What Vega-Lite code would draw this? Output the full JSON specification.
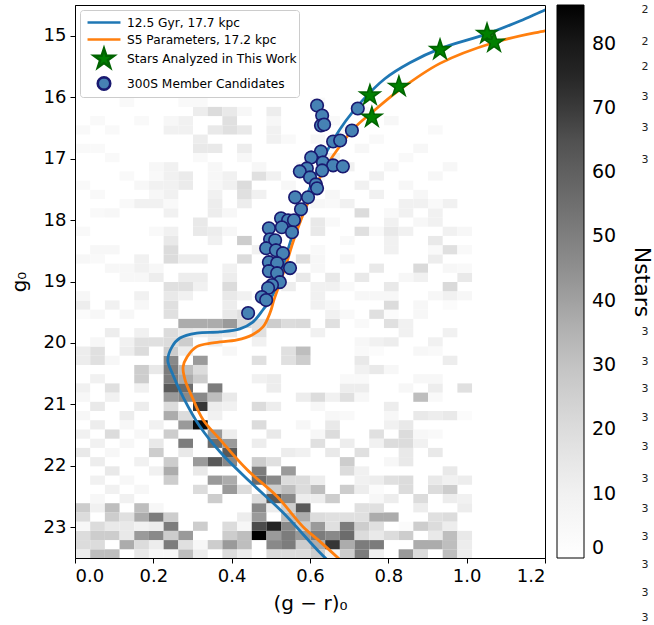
{
"$schema": "https://vega.github.io/schema/vega-lite/v6.json",
"width": 470, "height": 553,
"autosize": {"type": "none"},
"padding": {"left": 75, "top": 5, "right": 109, "bottom": 67},
"background": "white",
"config": {
 "font": "DejaVu Sans",
 "view": {"stroke": "black", "strokeWidth": 1},
 "axis": {"domainColor": "black", "tickColor": "black", "tickSize": 5, "labelColor": "black", "titleColor": "black", "labelFontSize": 18, "titleFontSize": 20, "titleFontWeight": "normal", "grid": false, "labelFont": "DejaVu Sans", "titleFont": "DejaVu Sans", "labelPadding": 4}
},
"datasets": {
 "hist": [
  {"c":0,"g":23.35,"n":12},{"c":0.0375,"g":23.35,"n":32},{"c":0.075,"g":23.35,"n":32},{"c":0.15,"g":23.35,"n":14},{"c":0.1875,"g":23.35,"n":6},{"c":0.225,"g":23.35,"n":6},{"c":0.2625,"g":23.35,"n":32},{"c":0.3,"g":23.35,"n":12},{"c":0.375,"g":23.35,"n":20},{"c":0.4125,"g":23.35,"n":12},{"c":0.4875,"g":23.35,"n":20},{"c":0.525,"g":23.35,"n":20},{"c":0.5625,"g":23.35,"n":20},{"c":0.6,"g":23.35,"n":26},{"c":0.6375,"g":23.35,"n":10},{"c":0.675,"g":23.35,"n":26},{"c":0.7125,"g":23.35,"n":51},{"c":0.75,"g":23.35,"n":10},{"c":0.825,"g":23.35,"n":42},{"c":0.8625,"g":23.35,"n":20},{"c":0.9375,"g":23.35,"n":32},{"c":0.975,"g":23.35,"n":12},
  {"c":0,"g":23.2,"n":20},{"c":0.0375,"g":23.2,"n":20},{"c":0.1125,"g":23.2,"n":37},{"c":0.15,"g":23.2,"n":20},{"c":0.1875,"g":23.2,"n":12},{"c":0.225,"g":23.2,"n":51},{"c":0.2625,"g":23.2,"n":18},{"c":0.3,"g":23.2,"n":6},{"c":0.3375,"g":23.2,"n":26},{"c":0.375,"g":23.2,"n":42},{"c":0.4125,"g":23.2,"n":32},{"c":0.4875,"g":23.2,"n":47},{"c":0.525,"g":23.2,"n":51},{"c":0.5625,"g":23.2,"n":26},{"c":0.6,"g":23.2,"n":37},{"c":0.6375,"g":23.2,"n":71},{"c":0.675,"g":23.2,"n":37},{"c":0.7125,"g":23.2,"n":51},{"c":0.75,"g":23.2,"n":51},{"c":0.8625,"g":23.2,"n":37},{"c":0.9,"g":23.2,"n":37},{"c":0.9375,"g":23.2,"n":32},{"c":0.975,"g":23.2,"n":12},
  {"c":0,"g":23.05,"n":20},{"c":0.0375,"g":23.05,"n":26},{"c":0.075,"g":23.05,"n":26},{"c":0.1125,"g":23.05,"n":14},{"c":0.15,"g":23.05,"n":42},{"c":0.1875,"g":23.05,"n":47},{"c":0.225,"g":23.05,"n":26},{"c":0.2625,"g":23.05,"n":42},{"c":0.375,"g":23.05,"n":26},{"c":0.4125,"g":23.05,"n":32},{"c":0.45,"g":23.05,"n":86},{"c":0.4875,"g":23.05,"n":42},{"c":0.525,"g":23.05,"n":51},{"c":0.5625,"g":23.05,"n":42},{"c":0.6,"g":23.05,"n":51},{"c":0.6375,"g":23.05,"n":47},{"c":0.675,"g":23.05,"n":56},{"c":0.7125,"g":23.05,"n":20},{"c":0.75,"g":23.05,"n":14},{"c":0.7875,"g":23.05,"n":20},{"c":0.825,"g":23.05,"n":26},{"c":0.9,"g":23.05,"n":14},{"c":0.9375,"g":23.05,"n":32},{"c":0.975,"g":23.05,"n":14},
  {"c":0,"g":22.9,"n":6},{"c":0.0375,"g":22.9,"n":20},{"c":0.075,"g":22.9,"n":14},{"c":0.1125,"g":22.9,"n":14},{"c":0.15,"g":22.9,"n":10},{"c":0.1875,"g":22.9,"n":12},{"c":0.225,"g":22.9,"n":51},{"c":0.3,"g":22.9,"n":26},{"c":0.375,"g":22.9,"n":20},{"c":0.4125,"g":22.9,"n":6},{"c":0.45,"g":22.9,"n":66},{"c":0.4875,"g":22.9,"n":76},{"c":0.525,"g":22.9,"n":47},{"c":0.5625,"g":22.9,"n":26},{"c":0.6,"g":22.9,"n":42},{"c":0.6375,"g":22.9,"n":18},{"c":0.675,"g":22.9,"n":51},{"c":0.7125,"g":22.9,"n":26},{"c":0.75,"g":22.9,"n":18},{"c":0.825,"g":22.9,"n":3},{"c":0.8625,"g":22.9,"n":26},{"c":0.9,"g":22.9,"n":20},{"c":0.9375,"g":22.9,"n":12},
  {"c":0,"g":22.75,"n":20},{"c":0.075,"g":22.75,"n":26},{"c":0.1125,"g":22.75,"n":18},{"c":0.15,"g":22.75,"n":37},{"c":0.1875,"g":22.75,"n":51},{"c":0.225,"g":22.75,"n":26},{"c":0.4125,"g":22.75,"n":12},{"c":0.45,"g":22.75,"n":42},{"c":0.525,"g":22.75,"n":32},{"c":0.5625,"g":22.75,"n":37},{"c":0.6,"g":22.75,"n":20},{"c":0.6375,"g":22.75,"n":18},{"c":0.675,"g":22.75,"n":18},{"c":0.7125,"g":22.75,"n":18},{"c":0.75,"g":22.75,"n":37},{"c":0.7875,"g":22.75,"n":37},{"c":0.9,"g":22.75,"n":18},{"c":0.9375,"g":22.75,"n":20},
  {"c":0,"g":22.6,"n":26},{"c":0.0375,"g":22.6,"n":10},{"c":0.075,"g":22.6,"n":32},{"c":0.15,"g":22.6,"n":32},{"c":0.1875,"g":22.6,"n":6},{"c":0.45,"g":22.6,"n":47},{"c":0.4875,"g":22.6,"n":12},{"c":0.525,"g":22.6,"n":26},{"c":0.5625,"g":22.6,"n":62},{"c":0.7125,"g":22.6,"n":18},{"c":0.75,"g":22.6,"n":18},{"c":0.8625,"g":22.6,"n":12},{"c":0.975,"g":22.6,"n":12},
  {"c":0.0375,"g":22.45,"n":6},{"c":0.1125,"g":22.45,"n":10},{"c":0.3375,"g":22.45,"n":26},{"c":0.45,"g":22.45,"n":20},{"c":0.4875,"g":22.45,"n":62},{"c":0.525,"g":22.45,"n":47},{"c":0.5625,"g":22.45,"n":12},{"c":0.6,"g":22.45,"n":12},{"c":0.6375,"g":22.45,"n":26},{"c":0.75,"g":22.45,"n":6},{"c":0.7875,"g":22.45,"n":12},{"c":0.8625,"g":22.45,"n":20},{"c":0.9375,"g":22.45,"n":12},{"c":0.975,"g":22.45,"n":10},
  {"c":0.075,"g":22.3,"n":10},{"c":0.15,"g":22.3,"n":6},{"c":0.3,"g":22.3,"n":20},{"c":0.375,"g":22.3,"n":42},{"c":0.4125,"g":22.3,"n":20},{"c":0.4875,"g":22.3,"n":26},{"c":0.525,"g":22.3,"n":32},{"c":0.5625,"g":22.3,"n":20},{"c":0.6,"g":22.3,"n":32},{"c":0.675,"g":22.3,"n":26},{"c":0.7125,"g":22.3,"n":12},{"c":0.75,"g":22.3,"n":3},{"c":0.825,"g":22.3,"n":20},{"c":0.9,"g":22.3,"n":20},{"c":0.9375,"g":22.3,"n":26},
  {"c":0.0375,"g":22.15,"n":10},{"c":0.1125,"g":22.15,"n":6},{"c":0.225,"g":22.15,"n":26},{"c":0.3375,"g":22.15,"n":42},{"c":0.375,"g":22.15,"n":37},{"c":0.45,"g":22.15,"n":56},{"c":0.4875,"g":22.15,"n":47},{"c":0.525,"g":22.15,"n":20},{"c":0.5625,"g":22.15,"n":20},{"c":0.6,"g":22.15,"n":12},{"c":0.7125,"g":22.15,"n":10},{"c":0.75,"g":22.15,"n":12},{"c":0.7875,"g":22.15,"n":18},{"c":0.825,"g":22.15,"n":20},{"c":0.9,"g":22.15,"n":14},{"c":0.9375,"g":22.15,"n":10},{"c":0.975,"g":22.15,"n":12},
  {"c":0.075,"g":22.0,"n":14},{"c":0.1875,"g":22.0,"n":10},{"c":0.225,"g":22.0,"n":37},{"c":0.3,"g":22.0,"n":14},{"c":0.45,"g":22.0,"n":51},{"c":0.525,"g":22.0,"n":42},{"c":0.675,"g":22.0,"n":20},{"c":0.7125,"g":22.0,"n":10},{"c":0.9375,"g":22.0,"n":14},
  {"c":0.0375,"g":21.85,"n":12},{"c":0.15,"g":21.85,"n":10},{"c":0.225,"g":21.85,"n":26},{"c":0.3,"g":21.85,"n":42},{"c":0.3375,"g":21.85,"n":62},{"c":0.375,"g":21.85,"n":47},{"c":0.45,"g":21.85,"n":26},{"c":0.4875,"g":21.85,"n":18},{"c":0.675,"g":21.85,"n":26},{"c":0.7875,"g":21.85,"n":6},{"c":0.825,"g":21.85,"n":14},
  {"c":0,"g":21.7,"n":14},{"c":0.075,"g":21.7,"n":6},{"c":0.1875,"g":21.7,"n":26},{"c":0.2625,"g":21.7,"n":14},{"c":0.375,"g":21.7,"n":62},{"c":0.525,"g":21.7,"n":12},{"c":0.5625,"g":21.7,"n":10},{"c":0.6375,"g":21.7,"n":14},{"c":0.7125,"g":21.7,"n":18},{"c":0.825,"g":21.7,"n":14},{"c":0.9,"g":21.7,"n":14},
  {"c":0.0375,"g":21.55,"n":10},{"c":0.1125,"g":21.55,"n":6},{"c":0.1875,"g":21.55,"n":14},{"c":0.2625,"g":21.55,"n":51},{"c":0.3375,"g":21.55,"n":56},{"c":0.375,"g":21.55,"n":42},{"c":0.45,"g":21.55,"n":12},{"c":0.6,"g":21.55,"n":18},{"c":0.675,"g":21.55,"n":12},{"c":0.75,"g":21.55,"n":10},{"c":0.7875,"g":21.55,"n":20},{"c":0.825,"g":21.55,"n":20},{"c":0.8625,"g":21.55,"n":10},
  {"c":0,"g":21.4,"n":10},{"c":0.075,"g":21.4,"n":20},{"c":0.15,"g":21.4,"n":6},{"c":0.225,"g":21.4,"n":26},{"c":0.3375,"g":21.4,"n":42},{"c":0.375,"g":21.4,"n":12},{"c":0.4875,"g":21.4,"n":14},{"c":0.6,"g":21.4,"n":6},{"c":0.6375,"g":21.4,"n":20},{"c":0.75,"g":21.4,"n":18},{"c":0.825,"g":21.4,"n":20},{"c":0.8625,"g":21.4,"n":6},{"c":0.9,"g":21.4,"n":4},
  {"c":0.0375,"g":21.25,"n":12},{"c":0.1125,"g":21.25,"n":6},{"c":0.1875,"g":21.25,"n":10},{"c":0.2625,"g":21.25,"n":42},{"c":0.3,"g":21.25,"n":84},{"c":0.45,"g":21.25,"n":20},{"c":0.5625,"g":21.25,"n":6},{"c":0.6375,"g":21.25,"n":14},{"c":0.7875,"g":21.25,"n":10},{"c":0.825,"g":21.25,"n":14},
  {"c":0,"g":21.1,"n":6},{"c":0.1125,"g":21.1,"n":12},{"c":0.225,"g":21.1,"n":37},{"c":0.2625,"g":21.1,"n":20},{"c":0.3375,"g":21.1,"n":10},{"c":0.6375,"g":21.1,"n":6},{"c":0.675,"g":21.1,"n":4},{"c":0.7875,"g":21.1,"n":6},{"c":0.8625,"g":21.1,"n":14},{"c":0.9,"g":21.1,"n":12},{"c":0.9375,"g":21.1,"n":14},{"c":0.975,"g":21.1,"n":3},
  {"c":0.0375,"g":20.95,"n":14},{"c":0.15,"g":20.95,"n":12},{"c":0.225,"g":20.95,"n":20},{"c":0.3,"g":20.95,"n":71},{"c":0.3375,"g":20.95,"n":12},{"c":0.375,"g":20.95,"n":10},{"c":0.45,"g":20.95,"n":20},{"c":0.4875,"g":20.95,"n":12},{"c":0.6,"g":20.95,"n":6},{"c":0.7875,"g":20.95,"n":12},
  {"c":0,"g":20.8,"n":6},{"c":0.075,"g":20.8,"n":10},{"c":0.225,"g":20.8,"n":42},{"c":0.2625,"g":20.8,"n":47},{"c":0.3,"g":20.8,"n":47},{"c":0.3375,"g":20.8,"n":32},{"c":0.375,"g":20.8,"n":14},{"c":0.5625,"g":20.8,"n":12},{"c":0.6,"g":20.8,"n":20},{"c":0.6375,"g":20.8,"n":10},{"c":0.675,"g":20.8,"n":18},{"c":0.7125,"g":20.8,"n":6},{"c":0.8625,"g":20.8,"n":32},{"c":0.9,"g":20.8,"n":4},
  {"c":0,"g":20.65,"n":10},{"c":0.075,"g":20.65,"n":18},{"c":0.15,"g":20.65,"n":10},{"c":0.225,"g":20.65,"n":62},{"c":0.2625,"g":20.65,"n":56},{"c":0.3375,"g":20.65,"n":51},{"c":0.4875,"g":20.65,"n":12},{"c":0.675,"g":20.65,"n":12},{"c":0.7125,"g":20.65,"n":12},{"c":0.825,"g":20.65,"n":6},{"c":0.9,"g":20.65,"n":12},{"c":0.975,"g":20.65,"n":18},
  {"c":0.0375,"g":20.5,"n":10},{"c":0.15,"g":20.5,"n":26},{"c":0.225,"g":20.5,"n":51},{"c":0.2625,"g":20.5,"n":37},{"c":0.3,"g":20.5,"n":26},{"c":0.45,"g":20.5,"n":10},{"c":0.4875,"g":20.5,"n":12},{"c":0.675,"g":20.5,"n":4},{"c":0.7125,"g":20.5,"n":4},{"c":0.8625,"g":20.5,"n":6},{"c":0.9,"g":20.5,"n":6},
  {"c":0.15,"g":20.35,"n":26},{"c":0.1875,"g":20.35,"n":14},{"c":0.225,"g":20.35,"n":51},{"c":0.2625,"g":20.35,"n":32},{"c":0.3,"g":20.35,"n":20},{"c":0.7125,"g":20.35,"n":10},{"c":0.75,"g":20.35,"n":14},{"c":0.7875,"g":20.35,"n":6},
  {"c":0,"g":20.2,"n":12},{"c":0.0375,"g":20.2,"n":18},{"c":0.075,"g":20.2,"n":6},{"c":0.225,"g":20.2,"n":47},{"c":0.3,"g":20.2,"n":42},{"c":0.45,"g":20.2,"n":18},{"c":0.525,"g":20.2,"n":18},{"c":0.5625,"g":20.2,"n":26},{"c":0.7125,"g":20.2,"n":14},{"c":0.9375,"g":20.2,"n":12},
  {"c":0,"g":20.05,"n":12},{"c":0.0375,"g":20.05,"n":18},{"c":0.1125,"g":20.05,"n":12},{"c":0.15,"g":20.05,"n":20},{"c":0.225,"g":20.05,"n":26},{"c":0.2625,"g":20.05,"n":12},{"c":0.375,"g":20.05,"n":6},{"c":0.525,"g":20.05,"n":18},{"c":0.5625,"g":20.05,"n":32},{"c":0.7125,"g":20.05,"n":4},{"c":0.75,"g":20.05,"n":3},{"c":0.8625,"g":20.05,"n":6},{"c":0.9,"g":20.05,"n":4},
  {"c":0.0375,"g":19.9,"n":6},{"c":0.1125,"g":19.9,"n":10},{"c":0.15,"g":19.9,"n":18},{"c":0.1875,"g":19.9,"n":18},{"c":0.225,"g":19.9,"n":20},{"c":0.2625,"g":19.9,"n":26},{"c":0.3375,"g":19.9,"n":12},{"c":0.45,"g":19.9,"n":10},{"c":0.7125,"g":19.9,"n":6},{"c":0.75,"g":19.9,"n":10},{"c":0.7875,"g":19.9,"n":12},{"c":0.9,"g":19.9,"n":10},
  {"c":0.075,"g":19.75,"n":12},{"c":0.15,"g":19.75,"n":10},{"c":0.225,"g":19.75,"n":20},{"c":0.2625,"g":19.75,"n":14},{"c":0.3,"g":19.75,"n":12},{"c":0.3375,"g":19.75,"n":14},{"c":0.375,"g":19.75,"n":14},{"c":0.45,"g":19.75,"n":18},{"c":0.6,"g":19.75,"n":10},{"c":0.825,"g":19.75,"n":10},{"c":0.9375,"g":19.75,"n":10},
  {"c":0.2625,"g":19.6,"n":37},{"c":0.3,"g":19.6,"n":37},{"c":0.3375,"g":19.6,"n":37},{"c":0.375,"g":19.6,"n":42},{"c":0.4125,"g":19.6,"n":20},{"c":0.45,"g":19.6,"n":18},{"c":0.4875,"g":19.6,"n":26},{"c":0.525,"g":19.6,"n":20},{"c":0.5625,"g":19.6,"n":21},{"c":0.6375,"g":19.6,"n":18},{"c":0.7125,"g":19.6,"n":4},{"c":0.7875,"g":19.6,"n":18},{"c":0.825,"g":19.6,"n":10},
  {"c":0,"g":19.45,"n":3},{"c":0.0375,"g":19.45,"n":6},{"c":0.1125,"g":19.45,"n":6},{"c":0.225,"g":19.45,"n":18},{"c":0.375,"g":19.45,"n":14},{"c":0.4125,"g":19.45,"n":18},{"c":0.6375,"g":19.45,"n":10},{"c":0.675,"g":19.45,"n":4},{"c":0.75,"g":19.45,"n":18},{"c":0.7875,"g":19.45,"n":3},{"c":0.8625,"g":19.45,"n":6},
  {"c":0,"g":19.3,"n":12},{"c":0.075,"g":19.3,"n":10},{"c":0.15,"g":19.3,"n":6},{"c":0.225,"g":19.3,"n":18},{"c":0.375,"g":19.3,"n":12},{"c":0.6,"g":19.3,"n":10},{"c":0.6375,"g":19.3,"n":6},{"c":0.7875,"g":19.3,"n":20},{"c":0.8625,"g":19.3,"n":6},{"c":0.9375,"g":19.3,"n":3},
  {"c":0,"g":19.15,"n":6},{"c":0.15,"g":19.15,"n":10},{"c":0.225,"g":19.15,"n":14},{"c":0.2625,"g":19.15,"n":10},{"c":0.375,"g":19.15,"n":14},{"c":0.4125,"g":19.15,"n":10},{"c":0.6,"g":19.15,"n":10},{"c":0.7125,"g":19.15,"n":6},{"c":0.75,"g":19.15,"n":6},{"c":0.7875,"g":19.15,"n":6},{"c":0.9,"g":19.15,"n":6},{"c":0.9375,"g":19.15,"n":10},{"c":0.975,"g":19.15,"n":6},
  {"c":0.225,"g":19.0,"n":18},{"c":0.2625,"g":19.0,"n":18},{"c":0.3,"g":19.0,"n":10},{"c":0.375,"g":19.0,"n":20},{"c":0.525,"g":19.0,"n":12},{"c":0.6,"g":19.0,"n":10},{"c":0.6375,"g":19.0,"n":10},{"c":0.675,"g":19.0,"n":4},{"c":0.7875,"g":19.0,"n":14},{"c":0.9375,"g":19.0,"n":21},
  {"c":0.1125,"g":18.85,"n":6},{"c":0.15,"g":18.85,"n":6},{"c":0.1875,"g":18.85,"n":12},{"c":0.2625,"g":18.85,"n":12},{"c":0.3,"g":18.85,"n":12},{"c":0.375,"g":18.85,"n":12},{"c":0.5625,"g":18.85,"n":14},{"c":0.6375,"g":18.85,"n":14},{"c":0.7125,"g":18.85,"n":14},{"c":0.825,"g":18.85,"n":6},{"c":0.8625,"g":18.85,"n":10},{"c":0.975,"g":18.85,"n":14},
  {"c":0.075,"g":18.7,"n":6},{"c":0.1125,"g":18.7,"n":6},{"c":0.15,"g":18.7,"n":10},{"c":0.1875,"g":18.7,"n":6},{"c":0.375,"g":18.7,"n":10},{"c":0.6,"g":18.7,"n":6},{"c":0.75,"g":18.7,"n":14},{"c":0.8625,"g":18.7,"n":21},{"c":0.9375,"g":18.7,"n":6},{"c":0.975,"g":18.7,"n":4},
  {"c":0,"g":18.55,"n":6},{"c":0.0375,"g":18.55,"n":4},{"c":0.15,"g":18.55,"n":10},{"c":0.225,"g":18.55,"n":20},{"c":0.2625,"g":18.55,"n":12},{"c":0.3,"g":18.55,"n":12},{"c":0.4125,"g":18.55,"n":20},{"c":0.5625,"g":18.55,"n":18},{"c":0.6,"g":18.55,"n":6},{"c":0.675,"g":18.55,"n":6},{"c":0.9,"g":18.55,"n":12},
  {"c":0.0375,"g":18.4,"n":6},{"c":0.075,"g":18.4,"n":6},{"c":0.225,"g":18.4,"n":20},{"c":0.45,"g":18.4,"n":10},{"c":0.6,"g":18.4,"n":4},{"c":0.7875,"g":18.4,"n":10},{"c":0.9,"g":18.4,"n":4},{"c":0.9375,"g":18.4,"n":18},{"c":0.975,"g":18.4,"n":4},
  {"c":0.225,"g":18.25,"n":14},{"c":0.3375,"g":18.25,"n":10},{"c":0.4125,"g":18.25,"n":26},{"c":0.675,"g":18.25,"n":4},{"c":0.7875,"g":18.25,"n":10},{"c":0.9,"g":18.25,"n":14},
  {"c":0,"g":18.1,"n":4},{"c":0.1875,"g":18.1,"n":4},{"c":0.225,"g":18.1,"n":10},{"c":0.3,"g":18.1,"n":14},{"c":0.3375,"g":18.1,"n":12},{"c":0.375,"g":18.1,"n":6},{"c":0.6,"g":18.1,"n":14},{"c":0.7125,"g":18.1,"n":18},{"c":0.75,"g":18.1,"n":4},{"c":0.7875,"g":18.1,"n":14},{"c":0.825,"g":18.1,"n":10},{"c":0.9375,"g":18.1,"n":10},{"c":0.975,"g":18.1,"n":6},
  {"c":0.3,"g":17.95,"n":14},{"c":0.6,"g":17.95,"n":14},{"c":0.6375,"g":17.95,"n":4},{"c":0.7875,"g":17.95,"n":10},{"c":0.8625,"g":17.95,"n":6},{"c":0.9,"g":17.95,"n":10},
  {"c":0.0375,"g":17.8,"n":4},{"c":0.075,"g":17.8,"n":6},{"c":0.225,"g":17.8,"n":10},{"c":0.3375,"g":17.8,"n":12},{"c":0.375,"g":17.8,"n":6},{"c":0.7125,"g":17.8,"n":20},{"c":0.7875,"g":17.8,"n":4},{"c":0.825,"g":17.8,"n":10},{"c":0.9,"g":17.8,"n":10},
  {"c":0.1125,"g":17.65,"n":4},{"c":0.15,"g":17.65,"n":10},{"c":0.1875,"g":17.65,"n":10},{"c":0.225,"g":17.65,"n":4},{"c":0.3375,"g":17.65,"n":12},{"c":0.4125,"g":17.65,"n":12},{"c":0.6,"g":17.65,"n":6},{"c":0.6375,"g":17.65,"n":4},{"c":0.675,"g":17.65,"n":10},{"c":0.825,"g":17.65,"n":10},{"c":0.8625,"g":17.65,"n":10},{"c":0.9,"g":17.65,"n":4},{"c":0.9375,"g":17.65,"n":10},
  {"c":0.0375,"g":17.5,"n":4},{"c":0.1875,"g":17.5,"n":6},{"c":0.225,"g":17.5,"n":10},{"c":0.3375,"g":17.5,"n":10},{"c":0.4125,"g":17.5,"n":18},{"c":0.45,"g":17.5,"n":10},{"c":0.6375,"g":17.5,"n":6},{"c":0.75,"g":17.5,"n":10},{"c":0.8625,"g":17.5,"n":6},
  {"c":0,"g":17.35,"n":4},{"c":0.15,"g":17.35,"n":6},{"c":0.1875,"g":17.35,"n":10},{"c":0.225,"g":17.35,"n":10},{"c":0.2625,"g":17.35,"n":13},{"c":0.3375,"g":17.35,"n":6},{"c":0.375,"g":17.35,"n":10},{"c":0.4125,"g":17.35,"n":20},{"c":0.525,"g":17.35,"n":6},{"c":0.7125,"g":17.35,"n":10},{"c":0.825,"g":17.35,"n":6},
  {"c":0.1125,"g":17.2,"n":4},{"c":0.1875,"g":17.2,"n":4},{"c":0.225,"g":17.2,"n":10},{"c":0.2625,"g":17.2,"n":13},{"c":0.3375,"g":17.2,"n":6},{"c":0.375,"g":17.2,"n":10},{"c":0.45,"g":17.2,"n":18},{"c":0.4875,"g":17.2,"n":10},{"c":0.6,"g":17.2,"n":6},{"c":0.75,"g":17.2,"n":10},{"c":0.9,"g":17.2,"n":6},
  {"c":0.1875,"g":17.05,"n":6},{"c":0.225,"g":17.05,"n":10},{"c":0.3375,"g":17.05,"n":6},{"c":0.45,"g":17.05,"n":6},{"c":0.5625,"g":17.05,"n":6},{"c":0.675,"g":17.05,"n":10},{"c":0.7875,"g":17.05,"n":6},{"c":0.9375,"g":17.05,"n":6},
  {"c":0.075,"g":16.9,"n":4},{"c":0.3,"g":16.9,"n":4},{"c":0.4125,"g":16.9,"n":6},{"c":0.6375,"g":16.9,"n":10},{"c":0.825,"g":16.9,"n":4},
  {"c":0,"g":16.75,"n":4},{"c":0.0375,"g":16.75,"n":4},{"c":0.3,"g":16.75,"n":14},{"c":0.3375,"g":16.75,"n":14},{"c":0.4125,"g":16.75,"n":12},{"c":0.7125,"g":16.75,"n":6},{"c":0.8625,"g":16.75,"n":6},
  {"c":0.3,"g":16.6,"n":12},{"c":0.4875,"g":16.6,"n":10},{"c":0.525,"g":16.6,"n":4},{"c":0.6,"g":16.6,"n":6},{"c":0.75,"g":16.6,"n":4},
  {"c":0,"g":16.45,"n":4},{"c":0.075,"g":16.45,"n":4},{"c":0.225,"g":16.45,"n":10},{"c":0.2625,"g":16.45,"n":10},{"c":0.3375,"g":16.45,"n":14},{"c":0.375,"g":16.45,"n":18},{"c":0.4125,"g":16.45,"n":14},{"c":0.4875,"g":16.45,"n":10},{"c":0.675,"g":16.45,"n":6},{"c":0.9,"g":16.45,"n":4},
  {"c":0.0375,"g":16.3,"n":4},{"c":0.15,"g":16.3,"n":4},{"c":0.225,"g":16.3,"n":6},{"c":0.2625,"g":16.3,"n":10},{"c":0.375,"g":16.3,"n":18},{"c":0.4875,"g":16.3,"n":6},{"c":0.6375,"g":16.3,"n":4},{"c":0.7875,"g":16.3,"n":6},
  {"c":0.3,"g":16.15,"n":12},{"c":0.3375,"g":16.15,"n":20},{"c":0.375,"g":16.15,"n":14},{"c":0.4125,"g":16.15,"n":6},{"c":0.4875,"g":16.15,"n":12},{"c":0.7125,"g":16.15,"n":4},
  {"c":0.1125,"g":16.0,"n":4},{"c":0.2625,"g":16.0,"n":4},{"c":0.3,"g":16.0,"n":4},{"c":0.6,"g":16.0,"n":4}
 ],
 "iso": [
  {"s":"12.5 Gyr, 17.7 kpc","c":0.664,"g":23.65},{"s":"12.5 Gyr, 17.7 kpc","c":0.625,"g":23.41},{"s":"12.5 Gyr, 17.7 kpc","c":0.531,"g":22.76},{"s":"12.5 Gyr, 17.7 kpc","c":0.447,"g":22.26},{"s":"12.5 Gyr, 17.7 kpc","c":0.370,"g":21.77},{"s":"12.5 Gyr, 17.7 kpc","c":0.319,"g":21.36},{"s":"12.5 Gyr, 17.7 kpc","c":0.276,"g":20.88},{"s":"12.5 Gyr, 17.7 kpc","c":0.248,"g":20.49},{"s":"12.5 Gyr, 17.7 kpc","c":0.237,"g":20.28},{"s":"12.5 Gyr, 17.7 kpc","c":0.248,"g":20.06},{"s":"12.5 Gyr, 17.7 kpc","c":0.268,"g":19.92},{"s":"12.5 Gyr, 17.7 kpc","c":0.311,"g":19.84},{"s":"12.5 Gyr, 17.7 kpc","c":0.370,"g":19.82},{"s":"12.5 Gyr, 17.7 kpc","c":0.421,"g":19.77},{"s":"12.5 Gyr, 17.7 kpc","c":0.454,"g":19.66},{"s":"12.5 Gyr, 17.7 kpc","c":0.480,"g":19.46},{"s":"12.5 Gyr, 17.7 kpc","c":0.498,"g":19.30},{"s":"12.5 Gyr, 17.7 kpc","c":0.521,"g":18.98},{"s":"12.5 Gyr, 17.7 kpc","c":0.536,"g":18.65},{"s":"12.5 Gyr, 17.7 kpc","c":0.551,"g":18.33},{"s":"12.5 Gyr, 17.7 kpc","c":0.567,"g":18.00},{"s":"12.5 Gyr, 17.7 kpc","c":0.587,"g":17.68},{"s":"12.5 Gyr, 17.7 kpc","c":0.608,"g":17.35},{"s":"12.5 Gyr, 17.7 kpc","c":0.631,"g":17.03},{"s":"12.5 Gyr, 17.7 kpc","c":0.659,"g":16.70},{"s":"12.5 Gyr, 17.7 kpc","c":0.692,"g":16.38},{"s":"12.5 Gyr, 17.7 kpc","c":0.733,"g":16.06},{"s":"12.5 Gyr, 17.7 kpc","c":0.791,"g":15.70},{"s":"12.5 Gyr, 17.7 kpc","c":0.855,"g":15.44},{"s":"12.5 Gyr, 17.7 kpc","c":0.932,"g":15.21},{"s":"12.5 Gyr, 17.7 kpc","c":1.052,"g":14.97},{"s":"12.5 Gyr, 17.7 kpc","c":1.136,"g":14.76},{"s":"12.5 Gyr, 17.7 kpc","c":1.200,"g":14.58},{"s":"12.5 Gyr, 17.7 kpc","c":1.251,"g":14.45},
  {"s":"S5 Parameters, 17.2 kpc","c":0.689,"g":23.60},{"s":"S5 Parameters, 17.2 kpc","c":0.625,"g":23.23},{"s":"S5 Parameters, 17.2 kpc","c":0.582,"g":22.99},{"s":"S5 Parameters, 17.2 kpc","c":0.516,"g":22.50},{"s":"S5 Parameters, 17.2 kpc","c":0.439,"g":22.06},{"s":"S5 Parameters, 17.2 kpc","c":0.370,"g":21.57},{"s":"S5 Parameters, 17.2 kpc","c":0.327,"g":21.25},{"s":"S5 Parameters, 17.2 kpc","c":0.299,"g":20.88},{"s":"S5 Parameters, 17.2 kpc","c":0.281,"g":20.60},{"s":"S5 Parameters, 17.2 kpc","c":0.276,"g":20.39},{"s":"S5 Parameters, 17.2 kpc","c":0.286,"g":20.23},{"s":"S5 Parameters, 17.2 kpc","c":0.311,"g":20.06},{"s":"S5 Parameters, 17.2 kpc","c":0.352,"g":20.00},{"s":"S5 Parameters, 17.2 kpc","c":0.414,"g":19.95},{"s":"S5 Parameters, 17.2 kpc","c":0.452,"g":19.87},{"s":"S5 Parameters, 17.2 kpc","c":0.480,"g":19.74},{"s":"S5 Parameters, 17.2 kpc","c":0.498,"g":19.51},{"s":"S5 Parameters, 17.2 kpc","c":0.508,"g":19.30},{"s":"S5 Parameters, 17.2 kpc","c":0.523,"g":19.03},{"s":"S5 Parameters, 17.2 kpc","c":0.539,"g":18.73},{"s":"S5 Parameters, 17.2 kpc","c":0.554,"g":18.41},{"s":"S5 Parameters, 17.2 kpc","c":0.572,"g":18.08},{"s":"S5 Parameters, 17.2 kpc","c":0.592,"g":17.76},{"s":"S5 Parameters, 17.2 kpc","c":0.615,"g":17.44},{"s":"S5 Parameters, 17.2 kpc","c":0.643,"g":17.11},{"s":"S5 Parameters, 17.2 kpc","c":0.677,"g":16.79},{"s":"S5 Parameters, 17.2 kpc","c":0.715,"g":16.49},{"s":"S5 Parameters, 17.2 kpc","c":0.758,"g":16.25},{"s":"S5 Parameters, 17.2 kpc","c":0.827,"g":15.89},{"s":"S5 Parameters, 17.2 kpc","c":0.932,"g":15.45},{"s":"S5 Parameters, 17.2 kpc","c":1.070,"g":15.11},{"s":"S5 Parameters, 17.2 kpc","c":1.200,"g":14.92},{"s":"S5 Parameters, 17.2 kpc","c":1.264,"g":14.84}
 ],
 "pts": [
  {"s":"300S Member Candidates","c":0.618,"g":16.136},{"s":"300S Member Candidates","c":0.631,"g":16.299},{"s":"300S Member Candidates","c":0.628,"g":16.461},{"s":"300S Member Candidates","c":0.636,"g":16.445},{"s":"300S Member Candidates","c":0.722,"g":16.185},{"s":"300S Member Candidates","c":0.707,"g":16.542},{"s":"300S Member Candidates","c":0.659,"g":16.721},{"s":"300S Member Candidates","c":0.677,"g":16.705},{"s":"300S Member Candidates","c":0.628,"g":16.883},{"s":"300S Member Candidates","c":0.603,"g":16.981},{"s":"300S Member Candidates","c":0.633,"g":17.062},{"s":"300S Member Candidates","c":0.659,"g":17.110},{"s":"300S Member Candidates","c":0.684,"g":17.127},{"s":"300S Member Candidates","c":0.631,"g":17.192},{"s":"300S Member Candidates","c":0.592,"g":17.159},{"s":"300S Member Candidates","c":0.574,"g":17.208},{"s":"300S Member Candidates","c":0.600,"g":17.305},{"s":"300S Member Candidates","c":0.615,"g":17.419},{"s":"300S Member Candidates","c":0.618,"g":17.484},{"s":"300S Member Candidates","c":0.562,"g":17.630},{"s":"300S Member Candidates","c":0.595,"g":17.630},{"s":"300S Member Candidates","c":0.577,"g":17.825},{"s":"300S Member Candidates","c":0.526,"g":17.971},{"s":"300S Member Candidates","c":0.544,"g":18.003},{"s":"300S Member Candidates","c":0.559,"g":18.003},{"s":"300S Member Candidates","c":0.528,"g":18.117},{"s":"300S Member Candidates","c":0.495,"g":18.133},{"s":"300S Member Candidates","c":0.554,"g":18.198},{"s":"300S Member Candidates","c":0.498,"g":18.312},{"s":"300S Member Candidates","c":0.511,"g":18.328},{"s":"300S Member Candidates","c":0.488,"g":18.458},{"s":"300S Member Candidates","c":0.513,"g":18.490},{"s":"300S Member Candidates","c":0.531,"g":18.539},{"s":"300S Member Candidates","c":0.495,"g":18.685},{"s":"300S Member Candidates","c":0.516,"g":18.701},{"s":"300S Member Candidates","c":0.549,"g":18.782},{"s":"300S Member Candidates","c":0.495,"g":18.831},{"s":"300S Member Candidates","c":0.516,"g":18.864},{"s":"300S Member Candidates","c":0.523,"g":19.010},{"s":"300S Member Candidates","c":0.503,"g":19.058},{"s":"300S Member Candidates","c":0.493,"g":19.107},{"s":"300S Member Candidates","c":0.477,"g":19.253},{"s":"300S Member Candidates","c":0.488,"g":19.302},{"s":"300S Member Candidates","c":0.442,"g":19.513},
  {"s":"Stars Analyzed in This Work","c":1.052,"g":14.97},{"s":"Stars Analyzed in This Work","c":1.070,"g":15.11},{"s":"Stars Analyzed in This Work","c":0.932,"g":15.23},{"s":"Stars Analyzed in This Work","c":0.827,"g":15.83},{"s":"Stars Analyzed in This Work","c":0.753,"g":15.97},{"s":"Stars Analyzed in This Work","c":0.758,"g":16.33}
 ],
 "digits": [
  {"c":1.455,"g":14.58,"t":"2"},{"c":1.455,"g":15.10,"t":"2"},{"c":1.455,"g":15.51,"t":"2"},{"c":1.455,"g":16.0,"t":"3"},{"c":1.455,"g":16.50,"t":"3"},{"c":1.455,"g":17.02,"t":"3"},{"c":1.455,"g":19.82,"t":"3"},{"c":1.455,"g":20.31,"t":"3"},{"c":1.455,"g":20.75,"t":"3"},{"c":1.455,"g":21.22,"t":"3"},{"c":1.455,"g":21.69,"t":"3"},{"c":1.455,"g":22.21,"t":"3"},{"c":1.455,"g":22.70,"t":"3"},{"c":1.455,"g":23.16,"t":"3"},{"c":1.455,"g":23.61,"t":"3"},{"c":1.455,"g":24.07,"t":"3"},{"c":1.455,"g":24.47,"t":"3"}
 ]
},
"layer": [
 {
  "data": {"name": "hist"},
  "mark": {"type": "rect"},
  "encoding": {
   "x": {"field": "c", "type": "quantitative", "bin": {"binned": true, "step": 0.0375}, "title": "(g − r)₀", "scale": {"domain": [0, 1.2], "nice": false, "zero": false}, "axis": {"values": [0, 0.2, 0.4, 0.6, 0.8, 1.0, 1.2], "format": ".1f", "titlePadding": 8}},
   "y": {"field": "g", "type": "quantitative", "bin": {"binned": true, "step": 0.15}, "title": "g₀", "scale": {"domain": [14.5, 23.5], "reverse": true, "nice": false, "zero": false}, "axis": {"values": [15, 16, 17, 18, 19, 20, 21, 22, 23], "format": "d", "titlePadding": 14}},
   "color": {"field": "n", "type": "quantitative",
     "scale": {"domain": [0, 10.75, 21.5, 32.25, 43, 53.75, 64.5, 75.25, 86], "range": ["#ffffff", "#f0f0f0", "#d9d9d9", "#bdbdbd", "#969696", "#737373", "#525252", "#252525", "#000000"]},
     "legend": {"title": "Nstars", "orient": "right", "offset": 12, "padding": 0, "direction": "vertical", "gradientLength": 553, "gradientThickness": 27, "gradientStrokeColor": "black", "gradientStrokeWidth": 1, "values": [0, 10, 20, 30, 40, 50, 60, 70, 80], "labelFontSize": 19, "labelColor": "black", "labelOffset": 8, "labelBaseline": "middle", "titleOrient": "right", "titleAngle": 270, "titleFontSize": 22, "titleFontWeight": "normal", "titleColor": "black", "titleAnchor": "middle", "titlePadding": 14}}
  }
 },
 {
  "data": {"name": "iso"},
  "mark": {"type": "line", "strokeWidth": 2.8, "clip": true, "interpolate": "catmull-rom"},
  "encoding": {
   "x": {"field": "c", "type": "quantitative", "title": "(g − r)₀"},
   "y": {"field": "g", "type": "quantitative", "title": "g₀"},
   "order": {"field": "g", "sort": "descending"},
   "stroke": {"field": "s", "type": "nominal", "scale": {"domain": ["12.5 Gyr, 17.7 kpc", "S5 Parameters, 17.2 kpc", "Stars Analyzed in This Work", "300S Member Candidates"], "range": ["#1f77b4", "#ff7f0e", "#006400", "#191970"]},
     "legend": {"title": null, "orient": "top-left", "offset": 5, "labelFontSize": 12.2, "labelColor": "black", "symbolStrokeWidth": 2.5, "symbolSize": 324, "symbolOffset": 10, "strokeColor": "#cccccc", "fillColor": "rgba(255,255,255,0.8)", "cornerRadius": 3, "padding": 2, "rowPadding": -3, "labelOffset": 11, "labelLimit": 300}}
  }
 },
 {
  "data": {"name": "pts"},
  "mark": {"type": "point", "filled": true, "strokeWidth": 1.6, "opacity": 1},
  "encoding": {
   "x": {"field": "c", "type": "quantitative", "title": "(g − r)₀"},
   "y": {"field": "g", "type": "quantitative", "title": "g₀"},
   "fill": {"field": "s", "type": "nominal", "scale": {"domain": ["12.5 Gyr, 17.7 kpc", "S5 Parameters, 17.2 kpc", "Stars Analyzed in This Work", "300S Member Candidates"], "range": ["#1f77b4", "#ff7f0e", "#008000", "#4682b4"]},
     "legend": {"title": null, "orient": "top-left", "offset": 5, "labelFontSize": 12.2, "labelColor": "black", "symbolStrokeWidth": 2.5, "symbolSize": 324, "symbolOffset": 10, "strokeColor": "#cccccc", "fillColor": "rgba(255,255,255,0.8)", "cornerRadius": 3, "padding": 2, "rowPadding": -3, "labelOffset": 11, "labelLimit": 300}},
   "stroke": {"field": "s", "type": "nominal", "scale": {"domain": ["12.5 Gyr, 17.7 kpc", "S5 Parameters, 17.2 kpc", "Stars Analyzed in This Work", "300S Member Candidates"], "range": ["#1f77b4", "#ff7f0e", "#006400", "#191970"]},
     "legend": {"title": null, "orient": "top-left", "offset": 5, "labelFontSize": 12.2, "labelColor": "black", "symbolStrokeWidth": 2.5, "symbolSize": 324, "symbolOffset": 10, "strokeColor": "#cccccc", "fillColor": "rgba(255,255,255,0.8)", "cornerRadius": 3, "padding": 2, "rowPadding": -3, "labelOffset": 11, "labelLimit": 300}},
   "shape": {"field": "s", "type": "nominal", "scale": {"domain": ["12.5 Gyr, 17.7 kpc", "S5 Parameters, 17.2 kpc", "Stars Analyzed in This Work", "300S Member Candidates"], "range": ["M-1.83,0L1.83,0", "M-1.83,0L1.83,0", "M0,-1L0.2245,-0.309L0.9511,-0.309L0.3633,0.118L0.5878,0.809L0,0.382L-0.5878,0.809L-0.3633,0.118L-0.9511,-0.309L-0.2245,-0.309Z", "M0.7,0L0.6467,0.2679L0.495,0.495L0.2679,0.6467L0,0.7L-0.2679,0.6467L-0.495,0.495L-0.6467,0.2679L-0.7,0L-0.6467,-0.2679L-0.495,-0.495L-0.2679,-0.6467L0,-0.7L0.2679,-0.6467L0.495,-0.495L0.6467,-0.2679Z"]},
     "legend": {"title": null, "orient": "top-left", "offset": 5, "labelFontSize": 12.2, "labelColor": "black", "symbolStrokeWidth": 2.5, "symbolSize": 324, "symbolOffset": 10, "strokeColor": "#cccccc", "fillColor": "rgba(255,255,255,0.8)", "cornerRadius": 3, "padding": 2, "rowPadding": -3, "labelOffset": 11, "labelLimit": 300}},
   "size": {"field": "s", "type": "nominal", "scale": {"type": "ordinal", "domain": ["12.5 Gyr, 17.7 kpc", "S5 Parameters, 17.2 kpc", "Stars Analyzed in This Work", "300S Member Candidates"], "range": [324, 324, 440, 320]}, "legend": null}
  }
 },
 {
  "data": {"name": "digits"},
  "mark": {"type": "text", "fontSize": 11, "color": "#222222", "align": "center", "baseline": "middle", "clip": false},
  "encoding": {
   "x": {"field": "c", "type": "quantitative", "title": "(g − r)₀"},
   "y": {"field": "g", "type": "quantitative", "title": "g₀"},
   "text": {"field": "t", "type": "nominal"}
  }
 }
]
}
